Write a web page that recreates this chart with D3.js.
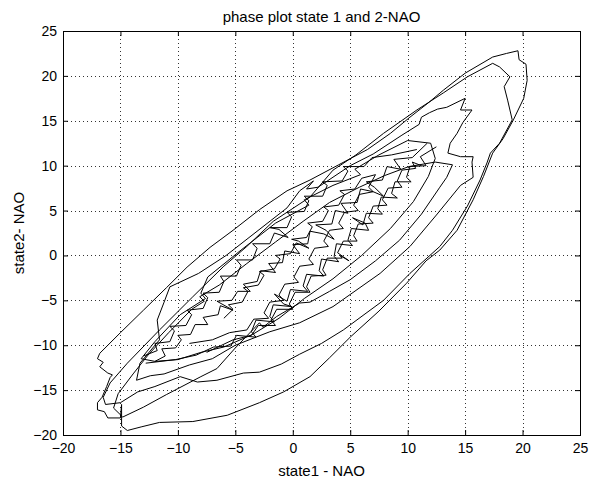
<!DOCTYPE html>
<html>
<head>
<meta charset="utf-8">
<script src="https://cdn.jsdelivr.net/npm/d3@7/dist/d3.min.js"></script>
<style>
  body { margin: 0; background: #fff; }
  text { font-family: "Liberation Sans", Arial, sans-serif; fill: #000; }
</style>
</head>
<body>
<div id="phasePlot"></div>
<script>
// tick labels for both axes
var xTicks = [-20, -15, -10, -5, 0, 5, 10, 15, 20, 25];
var yTicks = [-20, -15, -10, -5, 0, 5, 10, 15, 20, 25];

// trajectory pieces as [state1, state2]
var loopA = [[19.6,22.8],[18.6,22.5],[17.4,22.1],[15.0,20.3],[13.1,18.4],[11.8,17.0],[10.2,15.4],[8.5,13.6],[6.5,11.8],[4.0,10.1],[1.5,8.4],[-0.5,7.2],[-2.9,5.1],[-5.2,2.8],[-7.2,0.9],[-9.2,-1.3],[-11.0,-3.6],[-13.0,-6.1],[-15.0,-8.6],[-16.8,-10.9],[-17.0,-11.5],[-16.5,-11.9],[-16.8,-12.4],[-16.1,-13.1],[-15.7,-13.3],[-15.9,-13.6],[-16.2,-14.6],[-16.6,-15.8],[-17.0,-16.4],[-17.0,-17.2],[-16.4,-17.4],[-16.1,-18.1],[-15.0,-18.1],[-14.9,-16.6],[-14.9,-19.0],[-14.4,-19.5],[-13.2,-19.1],[-11.6,-18.6],[-8.7,-18.5],[-5.7,-17.8],[-2.9,-16.4],[-0.8,-15.2],[1.5,-13.5],[3.2,-11.4],[5.0,-9.1],[7.5,-6.2],[9.9,-3.1],[11.6,-0.6],[12.8,0.6],[14.3,2.8],[15.7,6.2],[16.6,8.8],[17.4,11.4],[18.3,13.0],[19.2,15.1],[20.1,17.5],[20.4,19.5],[20.3,21.3],[19.7,21.8],[19.6,22.8]];
var loopB = [[18.0,21.0],[17.4,21.4],[15.2,19.9],[13.1,18.1],[10.8,16.2],[7.9,13.6],[5.5,11.2],[3.5,9.5],[1.5,6.5],[-1.7,3.8],[-4.0,1.0],[-6.0,-1.2],[-8.7,-4.6],[-11.6,-8.3],[-14.4,-12.0],[-15.9,-14.2],[-16.5,-15.8],[-16.3,-16.6],[-15.0,-16.4],[-13.5,-15.2],[-12.0,-14.6],[-9.8,-13.5],[-8.3,-14.1],[-6.6,-13.9],[-4.3,-13.1],[-2.9,-13.0],[-1.0,-12.1],[0.6,-11.0],[2.5,-9.8],[4.4,-8.3],[6.2,-6.6],[7.9,-5.0],[10.2,-2.0],[12.8,1.0],[13.9,2.8],[15.2,5.5],[16.3,8.4],[16.9,10.3],[17.2,11.4],[18.0,12.5],[19.1,15.1],[18.7,17.3],[18.4,18.8],[18.9,19.9],[18.0,21.0]];
var loopC = [[15.0,17.5],[13.4,16.5],[12.6,16.3],[11.9,15.9],[11.2,15.4],[11.0,14.6],[9.5,13.4],[7.0,11.3],[5.0,10.0],[2.2,7.6],[1.2,7.4],[1.8,8.3],[0.6,7.2],[-0.5,5.3],[-3.2,2.6],[-5.8,0.0],[-8.2,-2.0],[-10.7,-3.5],[-11.2,-5.2],[-11.8,-7.2],[-11.6,-9.4],[-13.3,-12.0],[-13.6,-13.9],[-12.4,-13.4],[-11.2,-13.2],[-9.0,-12.2],[-7.0,-11.5],[-5.0,-10.0],[-2.0,-8.5],[0.6,-7.5],[3.5,-5.7],[7.6,-2.0],[10.2,1.0],[12.5,4.5],[14.6,7.8],[15.7,8.7],[15.6,10.4],[15.7,11.0],[14.6,11.0],[13.5,11.4],[13.7,12.5],[14.3,13.6],[14.8,14.8],[15.6,16.2],[14.6,16.2],[15.0,17.5]];
var loopD = [[-14.8,-18.0],[-13.0,-16.9],[-11.0,-15.5],[-8.0,-13.5],[-6.6,-12.6],[-5.0,-10.3],[-2.9,-7.5],[-2.6,-8.0],[-1.4,-6.8],[0.6,-5.3],[1.5,-5.2],[3.2,-4.0],[5.0,-2.7],[7.2,-0.6],[9.3,1.7],[11.2,4.6],[12.8,7.6],[13.4,8.7],[13.9,10.1],[12.4,10.4],[10.1,9.9],[8.0,8.9],[5.8,7.6],[3.2,5.9],[0.9,3.8],[-1.5,1.5],[-4.0,-0.9],[-6.4,-3.3],[-8.1,-4.6],[-7.7,-5.1],[-8.8,-6.0],[-10.8,-8.6],[-12.6,-11.1],[-13.9,-13.2],[-15.2,-15.4],[-15.6,-17.0],[-14.8,-18.0]];
var loopF = [[12.0,12.5],[10.0,12.8],[7.5,11.2],[5.4,9.6],[5.9,9.0],[3.5,7.8],[1.0,6.2],[1.4,5.6],[-1.5,3.6],[-4.5,0.6],[-7.4,-2.4],[-8.0,-4.2],[-7.6,-4.8],[-9.8,-6.6],[-12.0,-9.6],[-13.2,-11.5],[-12.0,-11.8],[-10.0,-11.6],[-8.0,-10.8],[-6.0,-10.2],[-3.5,-8.8],[-1.2,-7.0],[1.0,-4.8],[3.5,-2.6],[6.0,0.0],[8.5,3.0],[10.5,6.0],[11.8,8.8],[12.4,10.8],[12.0,12.5]];
// the noisy core along the diagonal
var core1 = [[-12.0,-11.8],[-11.1,-11.2],[-11.4,-10.4],[-10.2,-10.3],[-9.7,-9.4],[-10.0,-8.9],[-8.9,-8.8],[-8.5,-7.7],[-7.4,-7.7],[-7.8,-6.9],[-6.5,-6.6],[-6.3,-5.6],[-5.2,-6.1],[-6.6,-5.1],[-5.3,-5.0],[-4.8,-4.0],[-3.7,-4.0],[-4.3,-3.2],[-3.1,-2.9],[-2.8,-1.7],[-1.5,-1.9],[-2.1,-0.9],[-0.9,-0.8],[-0.7,0.5],[0.6,0.2],[0.0,1.2],[1.3,1.3],[1.5,2.7],[2.7,2.4],[3.6,1.8],[2.9,2.8],[2.0,3.4],[3.4,3.5],[3.7,5.0],[4.8,4.7],[4.2,5.8],[5.6,5.9],[5.9,7.4],[7.0,7.1],[7.9,6.6],[7.1,7.6],[6.4,8.2],[7.8,8.4],[8.2,9.9],[9.4,9.6],[8.8,10.7],[10.4,10.9],[11.7,12.5]];
var core2 = [[12.5,12.1],[11.1,11.0],[11.6,10.0],[10.2,9.9],[9.9,8.7],[10.3,8.2],[8.9,8.2],[8.6,6.9],[9.1,6.4],[7.7,6.5],[7.4,5.2],[7.8,4.6],[6.4,4.7],[6.1,3.4],[5.2,4.2],[6.3,3.6],[6.6,2.8],[5.1,3.0],[4.8,1.7],[5.2,1.1],[3.8,1.3],[3.6,-0.1],[4.0,-0.7],[2.5,-0.4],[2.3,-1.7],[2.7,-2.3],[1.2,-2.1],[0.9,-3.4],[1.3,-4.0],[-0.2,-3.8],[-0.5,-5.1],[-1.6,-4.3],[-0.8,-5.4],[-0.1,-5.7],[-1.7,-5.5],[-2.0,-6.8],[-1.6,-7.4],[-3.2,-7.2],[-3.6,-8.5],[-3.2,-9.1],[-4.9,-8.9],[-5.4,-10.1],[-6.9,-10.2],[-8.4,-11.1],[-10.2,-11.6],[-12.8,-12.0]];
var core3 = [[-13.0,-11.2],[-11.8,-10.6],[-12.0,-9.8],[-10.7,-9.6],[-10.3,-8.4],[-10.7,-7.9],[-9.3,-7.8],[-8.8,-6.6],[-9.2,-6.1],[-7.8,-5.9],[-7.4,-4.7],[-7.8,-4.2],[-6.4,-4.1],[-6.0,-2.9],[-6.3,-2.3],[-4.9,-2.3],[-4.5,-1.1],[-4.9,-0.5],[-3.5,-0.5],[-3.1,0.8],[-3.5,1.3],[-2.0,1.3],[-1.6,2.5],[-0.4,2.0],[-1.2,2.9],[-2.0,3.1],[-0.5,3.1],[-0.1,4.3],[-0.5,4.8],[1.0,4.9],[1.4,6.1],[1.0,6.6],[2.6,6.6],[3.0,7.8],[2.6,8.2],[4.3,8.3],[4.8,9.4],[4.4,9.9],[6.2,9.9],[6.9,10.9],[8.6,11.2],[10.8,11.8]];
var core4 = [[11.2,10.0],[10.4,10.4],[10.7,9.7],[9.5,9.5],[9.1,8.3],[9.5,7.6],[8.3,7.5],[7.8,6.2],[8.2,5.6],[7.0,5.5],[6.6,4.2],[7.0,3.6],[5.7,3.5],[5.3,2.2],[5.6,1.6],[4.4,1.6],[3.9,0.3],[4.9,-0.6],[4.1,0.0],[4.3,-0.3],[3.0,-0.3],[2.6,-1.6],[2.9,-2.2],[1.6,-2.3],[1.2,-3.5],[1.5,-4.1],[0.2,-4.1],[-0.3,-5.4],[0.0,-6.0],[-1.4,-6.0],[-1.9,-7.2],[-1.5,-7.8],[-3.0,-7.8],[-3.6,-8.9],[-5.2,-9.4],[-7.5,-10.8]];
var core5 = [[-6.0,-7.0],[-5.2,-6.0],[-5.6,-5.5],[-4.4,-5.2],[-3.9,-4.0],[-4.3,-3.6],[-3.0,-3.3],[-2.5,-2.2],[-2.9,-1.8],[-1.6,-1.5],[-1.1,-0.4],[-1.5,0.0],[-0.2,0.2],[0.3,1.4],[1.4,0.8],[0.5,1.6],[-0.1,1.8],[1.2,2.0],[1.7,3.2],[1.3,3.6],[2.6,3.8],[3.1,5.0],[2.7,5.4],[4.0,5.6],[4.5,6.8],[4.1,7.2],[5.4,7.4],[6.0,8.6],[7.2,9.0]];
var core6 = [[7.2,9.0],[6.6,7.6],[7.0,7.1],[5.8,6.8],[5.3,5.6],[5.7,5.0],[4.5,4.8],[4.0,3.6],[4.4,3.0],[3.2,2.8],[2.7,1.6],[3.1,1.0],[1.9,0.8],[1.4,-0.4],[1.8,-1.0],[0.6,-1.2],[0.1,-2.4],[0.5,-3.0],[-0.7,-3.2],[-1.2,-4.4],[-0.8,-5.0],[-2.0,-5.2],[-2.5,-6.4],[-2.1,-7.0],[-3.4,-7.1],[-4.0,-8.3],[-5.5,-8.6],[-7.0,-9.4],[-9.0,-9.8]];

var pieces = [loopA, loopB, loopC, loopD, loopF, core1, core2, core3, core4, core5, core6];

// set the dimensions and margins of the graph
var margin = {top: 31, right: 21, bottom: 44, left: 63},
  width = 601 - margin.left - margin.right,
  height = 479 - margin.top - margin.bottom;

var svg = d3.select("#phasePlot")
  .append("svg")
    .attr("width", 601)
    .attr("height", 479)
  .append("g")
    .attr("transform", "translate(" + margin.left + "," + margin.top + ")");

var x = d3.scaleLinear().domain([-20, 25]).range([0, width]);
var y = d3.scaleLinear().domain([-20, 25]).range([height, 0]);

// dotted grid, inner lines only
svg.append("g")
  .selectAll("line")
  .data(xTicks.slice(1, -1))
  .enter()
  .append("line")
    .attr("x1", function(d) { return Math.round(x(d)) + 0.5; })
    .attr("x2", function(d) { return Math.round(x(d)) + 0.5; })
    .attr("y1", 0)
    .attr("y2", height)
    .attr("stroke", "#333")
    .attr("stroke-dasharray", "1,3");

svg.append("g")
  .selectAll("line")
  .data(yTicks.slice(1, -1))
  .enter()
  .append("line")
    .attr("x1", 0)
    .attr("x2", width)
    .attr("y1", function(d) { return Math.round(y(d)) + 0.5; })
    .attr("y2", function(d) { return Math.round(y(d)) + 0.5; })
    .attr("stroke", "#333")
    .attr("stroke-dasharray", "1,3");

// the trajectory
var line = d3.line()
  .x(function(d) { return x(d[0]); })
  .y(function(d) { return y(d[1]); });

svg.append("g")
  .selectAll("path")
  .data(pieces)
  .enter()
  .append("path")
    .attr("d", line)
    .attr("fill", "none")
    .attr("stroke", "#000")
    .attr("stroke-width", 1)
    .attr("stroke-linejoin", "round");

// axes, ticks pointing inwards like matlab
function styleAxis(g) {
  g.select(".domain").remove();
  g.selectAll(".tick line").attr("stroke", "#000");
  g.selectAll("text").style("font-size", "14px").attr("fill", "#000");
}

svg.append("g")
  .attr("transform", "translate(0," + height + ")")
  .call(d3.axisBottom(x).tickValues(xTicks).tickSize(-5).tickPadding(8))
  .call(styleAxis);

svg.append("g")
  .call(d3.axisLeft(y).tickValues(yTicks).tickSize(-5).tickPadding(6))
  .call(styleAxis);

svg.append("g")
  .call(d3.axisTop(x).tickValues(xTicks).tickSize(-5).tickFormat(""))
  .call(styleAxis);

svg.append("g")
  .attr("transform", "translate(" + width + ",0)")
  .call(d3.axisRight(y).tickValues(yTicks).tickSize(-5).tickFormat(""))
  .call(styleAxis);

// box
svg.append("rect")
  .attr("x", 0.5)
  .attr("y", 0.5)
  .attr("width", width)
  .attr("height", height)
  .attr("fill", "none")
  .attr("stroke", "#000");

// labels
svg.append("text")
  .attr("x", width / 2)
  .attr("y", -9)
  .attr("text-anchor", "middle")
  .style("font-size", "15px")
  .text("phase plot state 1 and 2-NAO");

svg.append("text")
  .attr("x", width / 2)
  .attr("y", height + 41)
  .attr("text-anchor", "middle")
  .style("font-size", "15px")
  .text("state1 - NAO");

svg.append("text")
  .attr("transform", "translate(" + (-39) + "," + (height / 2) + ") rotate(-90)")
  .attr("text-anchor", "middle")
  .style("font-size", "15px")
  .text("state2- NAO");
</script>
</body>
</html>
